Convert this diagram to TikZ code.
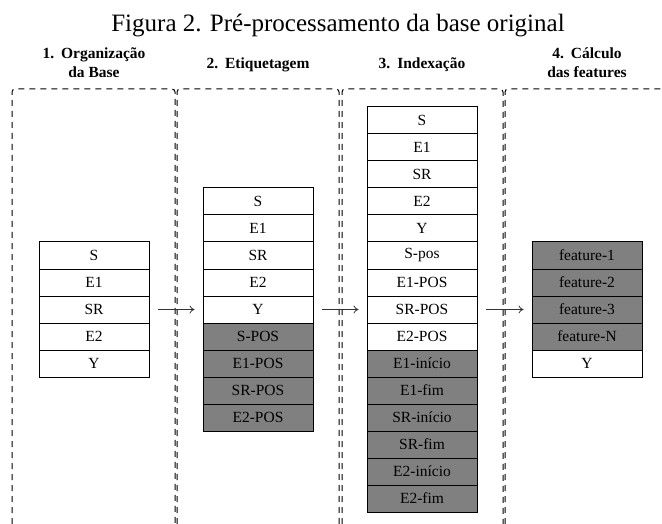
\documentclass[tikz,border=0pt]{standalone}
\usepackage{fontspec}
\setmainfont{Liberation Serif}
\usetikzlibrary{arrows.meta}
\begin{document}
\begin{tikzpicture}[x=1pt,y=-1pt,
  cell/.style={draw=black, line width=1pt, minimum width=110pt, minimum height=27pt,
    inner sep=0pt, anchor=north, font=\fontsize{15.5}{18}\selectfont},
  lite/.style={fill=white},
  dark/.style={fill=black!50},
  panel/.style={draw=black, line width=1pt, dash pattern=on 6pt off 5pt, rounded corners=3pt},
  head/.style={anchor=base, inner sep=0pt, font=\fontsize{15.5}{19}\selectfont\bfseries},
  flow/.style={-{To[length=5pt,width=8pt]}, draw=black!80, line width=0.8pt,
    shorten <=8pt, shorten >=8pt}]
\useasboundingbox (0,0) rectangle (662,524);

% title
\node[anchor=base, inner sep=0pt, font=\fontsize{25}{30}\selectfont] (title) at (338,32)
  {Figura 2. Pré-processamento da base original};

% headings
\node[head] (h1a) at (94,58.5) {1.\hspace{0.45em}Organização};
\node[head] (h1b) at (94,78) {da Base};
\node[head] (h2) at (258,68.5) {2.\hspace{0.45em}Etiquetagem};
\node[head] (h3) at (422,68.5) {3.\hspace{0.45em}Indexação};
\node[head] (h4a) at (587,58.5) {4.\hspace{0.45em}Cálculo};
\node[head] (h4b) at (587,78) {das features};

% dashed panels
\draw[panel] (12,524) |- (175,89) -- (175,524);
\draw[panel] (177,524) |- (339,89) -- (339,524);
\draw[panel] (342,524) |- (503,89) -- (503,524);
\draw[panel] (505,524) |- (662,89);

% panel 1
\foreach [count=\i] \t/\s in {S/lite,E1/lite,SR/lite,E2/lite,Y/lite}
  \node[cell,\s] (a\i) at (94,{241.5+(\i-1)*27}) {\t};

% panel 2
\foreach [count=\i] \t/\s in {S/lite,E1/lite,SR/lite,E2/lite,Y/lite,
    S-POS/dark,E1-POS/dark,SR-POS/dark,E2-POS/dark}
  \node[cell,\s] (b\i) at (258,{187.5+(\i-1)*27}) {\t};

% panel 3
\foreach [count=\i] \t/\s in {S/lite,E1/lite,SR/lite,E2/lite,Y/lite,S-pos/lite,
    E1-POS/lite,SR-POS/lite,E2-POS/lite,E1-início/dark,E1-fim/dark,
    SR-início/dark,SR-fim/dark,E2-início/dark,E2-fim/dark}
  \node[cell,\s] (c\i) at (422,{106.5+(\i-1)*27}) {\t};

% panel 4
\foreach [count=\i] \t/\s in {feature-1/dark,feature-2/dark,feature-3/dark,
    feature-N/dark,Y/lite}
  \node[cell,\s] (d\i) at (587,{241.5+(\i-1)*27}) {\t};

% arrows
\draw[flow] (a3.east) -- (b5.west);
\draw[flow] (b5.east) -- (c8.west);
\draw[flow] (c8.east) -- (d3.west);
\end{tikzpicture}
\end{document}
